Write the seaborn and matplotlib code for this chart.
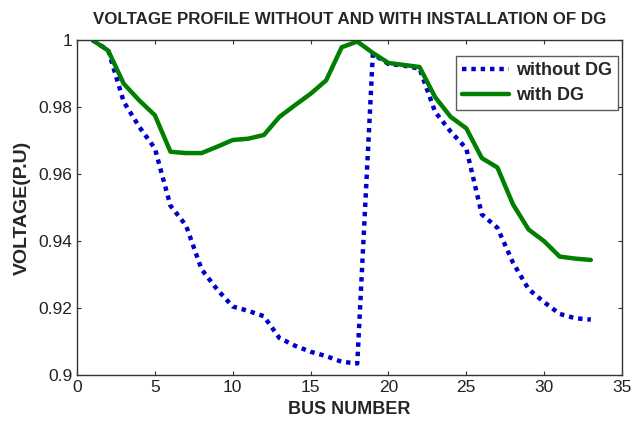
import numpy as np
import pandas as pd
import matplotlib
matplotlib.use("Agg")
import matplotlib.pyplot as plt
import seaborn as sns

bus = list(range(1, 34))
without_dg = [1.0000, 0.9970, 0.9816, 0.9741, 0.9677, 0.9506, 0.9447, 0.9316, 0.9256,
              0.9205, 0.9192, 0.9176, 0.9111, 0.9088, 0.9070, 0.9057, 0.9040, 0.9035,
              0.9959, 0.9929, 0.9924, 0.9915, 0.9786, 0.9727, 0.9677, 0.9480, 0.9440,
              0.9336, 0.9257, 0.9218, 0.9183, 0.9170, 0.9166]
with_dg = [1.0000, 0.9969, 0.9870, 0.9820, 0.9776, 0.9667, 0.9663, 0.9663, 0.9682,
           0.9702, 0.9706, 0.9717, 0.9771, 0.9806, 0.9840, 0.9880, 0.9979, 0.9996,
           0.9962, 0.9932, 0.9926, 0.9920, 0.9830, 0.9771, 0.9737, 0.9648, 0.9620,
           0.9510, 0.9435, 0.9400, 0.9354, 0.9348, 0.9344]
series_names = ["without DG", "with DG"]
x_ticks = [0, 5, 10, 15, 20, 25, 30, 35]
y_ticks = [0.9, 0.92, 0.94, 0.96, 0.98, 1.0]
y_tick_labels = ["0.9", "0.92", "0.94", "0.96", "0.98", "1"]
title = "VOLTAGE PROFILE WITHOUT AND WITH INSTALLATION OF DG"
xlabel = "BUS NUMBER"
ylabel = "VOLTAGE(P.U)"

df = pd.DataFrame({
    "bus": bus * 2,
    "voltage": without_dg + with_dg,
    "series": [series_names[0]] * len(bus) + [series_names[1]] * len(bus),
})

sns.set_style("ticks")
plt.rcParams["font.family"] = ["Liberation Sans", "DejaVu Sans"]

fig = plt.figure(figsize=(6.34, 4.23), dpi=100)
ax = fig.add_axes([0.1215, 0.113, 0.8595, 0.792])

sns.lineplot(data=df[df.series == series_names[0]], x="bus", y="voltage", ax=ax,
             color="#0000cc", linewidth=3.2, linestyle=(0, (1, 1.1)),
             label=series_names[0])
sns.lineplot(data=df[df.series == series_names[1]], x="bus", y="voltage", ax=ax,
             color="#007f00", linewidth=3.2, label=series_names[1])

ax.set_xlim(0, 35)
ax.set_ylim(0.9, 1.0)
ax.set_xticks(x_ticks)
ax.set_xticklabels([str(t) for t in x_ticks])
ax.set_yticks(y_ticks)
ax.set_yticklabels(y_tick_labels)
ax.tick_params(direction="in", top=True, right=True, labelsize=12.5, length=3,
               width=0.8, colors="#333333", labelcolor="#222222")
for s in ax.spines.values():
    s.set_visible(True)
    s.set_color("#333333")
    s.set_linewidth(1.0)

ax.set_title(title, fontsize=12.2, fontweight="bold", pad=12)
ax.set_xlabel(xlabel, fontsize=13, fontweight="bold", labelpad=4)
ax.set_ylabel(ylabel, fontsize=14, fontweight="bold", labelpad=5)

leg = ax.legend(loc="upper right", frameon=True, fancybox=False,
                edgecolor="#333333", handlelength=2.6, borderpad=0.35,
                labelspacing=0.45, handletextpad=0.4, borderaxespad=0.2,
                prop={"weight": "bold", "size": 13},
                bbox_to_anchor=(1.0, 0.965))
leg.get_frame().set_linewidth(1.0)

fig.savefig("out.png", dpi=100)
